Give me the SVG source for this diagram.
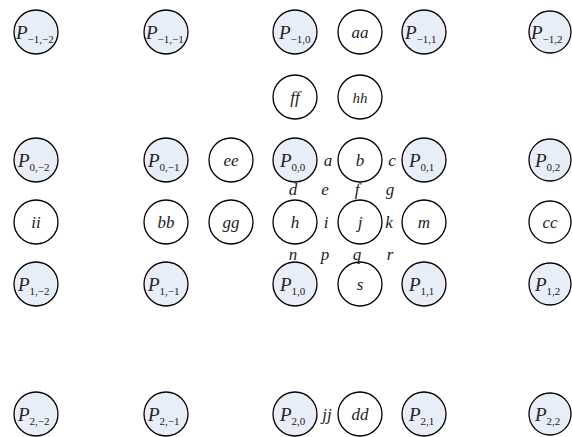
<svg xmlns="http://www.w3.org/2000/svg" width="572" height="437" viewBox="0 0 572 437">
<style>
.n{fill:#ffffff;stroke:#000;stroke-width:1.3}
.p{fill:#e8eef8;stroke:#000;stroke-width:1.3}
text{font-family:"Liberation Serif","Times New Roman",serif;font-style:italic;font-size:17px;fill:#222;text-anchor:middle}
.P{font-size:19px;text-anchor:start}
.s{font-style:normal;font-size:11px}
</style>
<rect width="572" height="437" fill="#fff"/>
<g id="connectors"></g>
<!-- row -1 -->
<g id="Pm1m2"><circle class="p" cx="36" cy="32" r="22"/><text class="P" x="16" y="39">P<tspan class="s" dy="4">−1,−2</tspan></text></g>
<g id="Pm1m1"><circle class="p" cx="166" cy="32" r="22"/><text class="P" x="146" y="39">P<tspan class="s" dy="4">−1,−1</tspan></text></g>
<g id="Pm10"><circle class="p" cx="295" cy="32" r="22"/><text class="P" x="279" y="39">P<tspan class="s" dy="4">−1,0</tspan></text></g>
<g id="aa"><circle class="n" cx="360" cy="32" r="22"/><text x="360" y="38">aa</text></g>
<g id="Pm11"><circle class="p" cx="424" cy="32" r="22"/><text class="P" x="405" y="39">P<tspan class="s" dy="4">−1,1</tspan></text></g>
<g id="Pm12"><circle class="p" cx="550" cy="32" r="21"/><text class="P" x="531" y="39">P<tspan class="s" dy="4">−1,2</tspan></text></g>
<!-- ff hh -->
<g id="ff"><circle class="n" cx="295" cy="97" r="22"/><text x="295" y="103">ff</text></g>
<g id="hh"><circle class="n" cx="360" cy="97" r="22"/><text x="360" y="103" style="font-size:15px">hh</text></g>
<!-- row 0 -->
<g id="P0m2"><circle class="p" cx="36" cy="160" r="22"/><text class="P" x="18" y="167">P<tspan class="s" dy="4">0,−2</tspan></text></g>
<g id="P0m1"><circle class="p" cx="166" cy="160" r="22"/><text class="P" x="148" y="167">P<tspan class="s" dy="4">0,−1</tspan></text></g>
<g id="ee"><circle class="n" cx="231" cy="160" r="22"/><text x="231" y="166">ee</text></g>
<g id="P00"><circle class="p" cx="295" cy="160" r="22"/><text class="P" x="280" y="167">P<tspan class="s" dy="4">0,0</tspan></text></g>
<g id="b"><circle class="n" cx="360" cy="160" r="22"/><text x="360" y="166">b</text></g>
<g id="P01"><circle class="p" cx="424" cy="160" r="22"/><text class="P" x="409" y="167">P<tspan class="s" dy="4">0,1</tspan></text></g>
<g id="P02"><circle class="p" cx="550" cy="160" r="21"/><text class="P" x="535" y="167">P<tspan class="s" dy="4">0,2</tspan></text></g>
<!-- middle row -->
<g id="ii"><circle class="n" cx="36" cy="222" r="22"/><text x="36" y="228">ii</text></g>
<g id="bb"><circle class="n" cx="166" cy="222" r="22"/><text x="166" y="228">bb</text></g>
<g id="gg"><circle class="n" cx="231" cy="222" r="22"/><text x="231" y="228">gg</text></g>
<g id="h"><circle class="n" cx="295" cy="222" r="22"/><text x="295" y="228">h</text></g>
<g id="j"><circle class="n" cx="360" cy="222" r="22"/><text x="360" y="228">j</text></g>
<g id="m"><circle class="n" cx="424" cy="222" r="22"/><text x="424" y="228">m</text></g>
<g id="cc"><circle class="n" cx="550" cy="222" r="21"/><text x="550" y="228">cc</text></g>
<!-- row 1 -->
<g id="P1m2"><circle class="p" cx="36" cy="284" r="22"/><text class="P" x="18" y="291">P<tspan class="s" dy="4">1,−2</tspan></text></g>
<g id="P1m1"><circle class="p" cx="166" cy="284" r="22"/><text class="P" x="148" y="291">P<tspan class="s" dy="4">1,−1</tspan></text></g>
<g id="P10"><circle class="p" cx="295" cy="284" r="22"/><text class="P" x="280" y="291">P<tspan class="s" dy="4">1,0</tspan></text></g>
<g id="s"><circle class="n" cx="360" cy="284" r="22"/><text x="360" y="290">s</text></g>
<g id="P11"><circle class="p" cx="424" cy="284" r="22"/><text class="P" x="409" y="291">P<tspan class="s" dy="4">1,1</tspan></text></g>
<g id="P12"><circle class="p" cx="550" cy="284" r="21"/><text class="P" x="535" y="291">P<tspan class="s" dy="4">1,2</tspan></text></g>
<!-- row 2 -->
<g id="P2m2"><circle class="p" cx="36" cy="414" r="22"/><text class="P" x="18" y="421">P<tspan class="s" dy="4">2,−2</tspan></text></g>
<g id="P2m1"><circle class="p" cx="166" cy="414" r="22"/><text class="P" x="148" y="421">P<tspan class="s" dy="4">2,−1</tspan></text></g>
<g id="P20"><circle class="p" cx="295" cy="414" r="22"/><text class="P" x="280" y="421">P<tspan class="s" dy="4">2,0</tspan></text></g>
<g id="dd"><circle class="n" cx="360" cy="414" r="22"/><text x="360" y="420">dd</text></g>
<g id="P21"><circle class="p" cx="424" cy="414" r="22"/><text class="P" x="409" y="421">P<tspan class="s" dy="4">2,1</tspan></text></g>
<g id="P22"><circle class="p" cx="550" cy="414" r="21"/><text class="P" x="535" y="421">P<tspan class="s" dy="4">2,2</tspan></text></g>
<!-- free labels -->
<g id="labels">
<text x="328" y="166">a</text>
<text x="392" y="166">c</text>
<text x="293" y="195">d</text>
<text x="325" y="195">e</text>
<text x="357" y="195">f</text>
<text x="390" y="195">g</text>
<text x="326" y="228">i</text>
<text x="389" y="228">k</text>
<text x="293" y="260">n</text>
<text x="325" y="260">p</text>
<text x="357" y="260">q</text>
<text x="390" y="260">r</text>
<text x="327" y="420">jj</text>
</g>
</svg>
